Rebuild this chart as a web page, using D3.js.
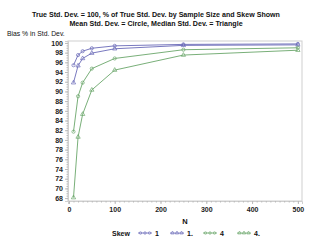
<!DOCTYPE html>
<html>
<head>
<meta charset="utf-8">
<script src="https://cdn.jsdelivr.net/npm/d3@7"></script>
<style>
  body { margin: 0; background: #fff; }
  svg { font-family: "Liberation Sans", Arial, sans-serif; }
  .tick text { font-size: 7px; font-weight: bold; fill: #222; }
</style>
</head>
<body>
<svg id="chart" width="313" height="242"></svg>
<script>
// sample sizes and bias (% of true std. dev.)
var sampleSizes = [10, 20, 30, 50, 100, 250, 500];
var skew1Mean   = [95.4, 97.5, 98.3, 98.9, 99.4, 99.7, 99.8];
var skew1Median = [91.8, 95.3, 96.8, 97.9, 98.8, 99.5, 99.6];
var skew4Mean   = [81.7, 89.0, 91.8, 94.7, 96.8, 98.6, 99.0];
var skew4Median = [68.1, 80.6, 85.3, 90.3, 94.4, 97.5, 98.5];
var seriesNames = ["1", "1.", "4", "4."];
var yTicks = d3.range(68, 101, 2);
var xTicks = [0, 100, 200, 300, 400, 500];

var blue = "#6a6ab8", green = "#6aa66a";
var series = [
  { name: seriesNames[0], values: skew1Mean,   color: blue,  shape: d3.symbolCircle },
  { name: seriesNames[1], values: skew1Median, color: blue,  shape: d3.symbolTriangle },
  { name: seriesNames[2], values: skew4Mean,   color: green, shape: d3.symbolCircle },
  { name: seriesNames[3], values: skew4Median, color: green, shape: d3.symbolTriangle }
];

var svg = d3.select("#chart");
// note: "top" is taken by window.top, so plot edges get a prefix
var plotL = 68, plotR = 302, plotT = 41, plotB = 201;

var x = d3.scaleLinear().domain([-2, 509]).range([plotL, plotR]);
var y = d3.scaleLinear().domain([67.4, 100.4]).range([plotB, plotT]);

// titles
var title = svg.append("g").attr("font-size", 7.1).attr("font-weight", "bold")
  .attr("text-anchor", "middle").attr("fill", "#111");
title.append("text").attr("x", 156).attr("y", 17)
  .text("True Std. Dev. = 100, % of True Std. Dev. by Sample Size and Skew Shown");
title.append("text").attr("x", 156).attr("y", 25.5)
  .text("Mean Std. Dev. = Circle, Median Std. Dev. = Triangle");
svg.append("text").attr("x", 7).attr("y", 36).attr("font-size", 6.8)
  .attr("fill", "#111").text("Bias % in Std. Dev.");

// frame
svg.append("rect").attr("x", plotL).attr("y", plotT)
  .attr("width", plotR - plotL).attr("height", plotB - plotT)
  .attr("fill", "none").attr("stroke", "#cfcfcf").attr("stroke-width", 1);

// axes
var yAxis = svg.append("g").attr("transform", "translate(" + plotL + ",0)")
  .call(d3.axisLeft(y).tickValues(yTicks).tickSize(3).tickPadding(2));
var xAxis = svg.append("g").attr("transform", "translate(0," + plotB + ")")
  .call(d3.axisBottom(x).tickValues(xTicks).tickSize(3).tickPadding(3));
svg.append("g").attr("transform", "translate(0," + plotB + ")")
  .call(d3.axisBottom(x).tickValues(d3.range(0, 501, 10)).tickSize(1.5).tickFormat(""))
  .call(function(g) { g.select(".domain").remove(); })
  .selectAll("line").attr("stroke", "#bbb");
svg.append("g").attr("transform", "translate(" + plotL + ",0)")
  .call(d3.axisLeft(y).tickValues(d3.range(68, 100.1, 0.5)).tickSize(1.5).tickFormat(""))
  .call(function(g) { g.select(".domain").remove(); })
  .selectAll("line").attr("stroke", "#bbb");
[yAxis, xAxis].forEach(function(a) {
  a.select(".domain").attr("stroke", "#cfcfcf");
  a.selectAll(".tick line").attr("stroke", "#bbb");
});

svg.append("text").attr("x", 185).attr("y", 224).attr("text-anchor", "middle")
  .attr("font-size", 7.5).attr("font-weight", "bold").attr("fill", "#111").text("N");

// lines and markers
var line = d3.line().x(function(d, i) { return x(sampleSizes[i]); }).y(function(d) { return y(d); });
var sym = d3.symbol().size(8);

series.forEach(function(s) {
  var g = svg.append("g");
  g.append("path").datum(s.values).attr("d", line)
    .attr("fill", "none").attr("stroke", s.color).attr("stroke-width", 0.9);
  g.selectAll("path.pt").data(s.values).enter().append("path").attr("class", "pt")
    .attr("d", sym.type(s.shape)())
    .attr("transform", function(d, i) { return "translate(" + x(sampleSizes[i]) + "," + y(d) + ")"; })
    .attr("fill", "none").attr("stroke", s.color).attr("stroke-width", 0.7);
});

// legend
var legend = svg.append("g").attr("font-size", 7).attr("font-weight", "bold").attr("fill", "#111");
legend.append("text").attr("x", 112).attr("y", 235.5).text("Skew");
var legX = [138, 170, 203, 237];
series.forEach(function(s, i) {
  var lg = legend.append("g").attr("transform", "translate(" + legX[i] + ",233)");
  lg.append("line").attr("x1", 0).attr("x2", 14).attr("stroke", s.color).attr("stroke-width", 0.8);
  [2.5, 7, 11.5].forEach(function(px) {
    lg.append("path").attr("d", d3.symbol().size(5).type(s.shape)())
      .attr("transform", "translate(" + px + ",0)")
      .attr("fill", "none").attr("stroke", s.color).attr("stroke-width", 0.6);
  });
  lg.append("text").attr("x", 17).attr("y", 2.5).text(s.name);
});
</script>
</body>
</html>
